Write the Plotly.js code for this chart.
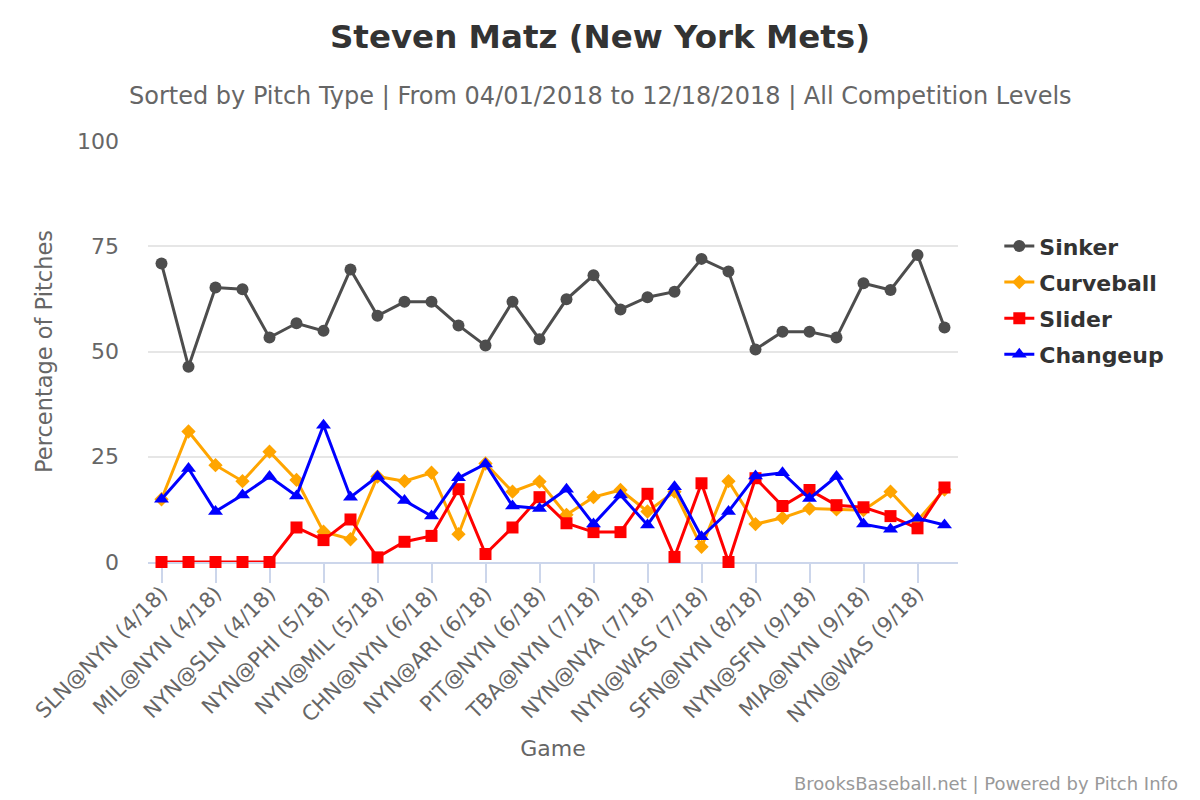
<!DOCTYPE html>
<html>
<head>
<meta charset="utf-8">
<script src="https://cdn.plot.ly/plotly-3.0.1.min.js"></script>
<style>
  html, body { margin: 0; padding: 0; background: #fff; }
  #chart { width: 1200px; height: 800px; }
</style>
</head>
<body>
<div id="chart"></div>
<script>
// Steven Matz 2018, share of each pitch type per game (percent).
// 30 starts; only every other game gets a tick label, like the source chart.
const gameIndex = Array.from({ length: 30 }, (_, i) => i);

const tickLabels = [
    'SLN@NYN (4/18)', 'MIL@NYN (4/18)', 'NYN@SLN (4/18)', 'NYN@PHI (5/18)',
    'NYN@MIL (5/18)', 'CHN@NYN (6/18)', 'NYN@ARI (6/18)', 'PIT@NYN (6/18)',
    'TBA@NYN (7/18)', 'NYN@NYA (7/18)', 'NYN@WAS (7/18)', 'SFN@NYN (8/18)',
    'NYN@SFN (9/18)', 'MIA@NYN (9/18)', 'NYN@WAS (9/18)',
];
const tickPositions = tickLabels.map((_, i) => i * 2);

const sinker = [
    70.9, 46.4, 65.2, 64.8, 53.3, 56.7, 54.9, 69.5, 58.5, 61.8,
    61.8, 56.2, 51.4, 61.8, 52.9, 62.4, 68.1, 60.0, 62.9, 64.2,
    72.0, 69.0, 50.5, 54.7, 54.7, 53.3, 66.2, 64.6, 72.9, 55.7,
];
const curveball = [
    14.9, 31.0, 23.0, 19.2, 26.2, 19.5, 7.2, 5.4, 20.3, 19.2,
    21.2, 6.6, 23.4, 16.7, 19.1, 11.2, 15.4, 17.1, 12.0, 16.7,
    3.6, 19.2, 9.0, 10.5, 12.7, 12.5, 12.3, 16.7, 9.8, 17.2,
];
const slider = [
    0, 0, 0, 0, 0, 8.2, 5.2, 10.1, 1.1, 4.8,
    6.2, 17.3, 1.9, 8.2, 15.4, 9.2, 7.1, 7.1, 16.2, 1.2,
    18.7, 0, 19.9, 13.3, 17.1, 13.5, 13.0, 10.9, 8.0, 17.7,
];
const changeup = [
    14.9, 22.2, 12.0, 15.9, 20.3, 15.7, 32.5, 15.4, 20.3, 14.6,
    10.9, 20.0, 23.3, 13.3, 12.7, 17.3, 9.0, 15.9, 8.8, 17.9,
    6.0, 12.0, 20.4, 21.2, 15.1, 20.3, 9.0, 7.8, 10.4, 8.8,
];

const FONT = '"DejaVu Sans", Verdana, sans-serif';

function series(name, values, color, symbol, size) {
    return {
        type: 'scatter', mode: 'lines+markers', name,
        legendgroup: name,
        x: gameIndex, y: values,
        line: { color, width: 3 },
        marker: { color, symbol, size },
        cliponaxis: false,
        hovertemplate: '%{y:.1f}%<extra>' + name + '</extra>',
    };
}

const traces = [
    series('Sinker', sinker, '#4d4d4d', 'circle', 12),
    series('Curveball', curveball, '#ffa500', 'diamond', 11),
    series('Slider', slider, '#ff0000', 'square', 12),
    series('Changeup', changeup, '#0000ff', 'triangle-up', 13),
];

const layout = {
    width: 1200, height: 800,
    paper_bgcolor: '#fff', plot_bgcolor: '#fff',
    font: { family: FONT, color: '#666' },
    margin: { l: 148, r: 242, t: 141, b: 238, autoexpand: false },
    title: {
        text: 'Steven Matz (New York Mets)',
        font: { family: FONT, size: 32.5, color: '#333', weight: 'bold' },
        x: 0.5, xref: 'container', xanchor: 'center',
        y: 1 - 37 / 800, yref: 'container', yanchor: 'middle',
    },
    xaxis: {
        range: [-0.5, 29.5],
        tickvals: tickPositions, ticktext: tickLabels,
        tickangle: -45,
        tickfont: { size: 21, color: '#666' },
        ticks: 'outside', ticklen: 19, tickwidth: 1.5, tickcolor: '#ccd6eb',
        ticklabelstandoff: -10,
        showline: true, linecolor: '#ccd6eb', linewidth: 1.5,
        layer: 'below traces',
        showgrid: false, zeroline: false, fixedrange: true,
        title: { text: 'Game', font: { size: 22, color: '#666' }, standoff: 14 },
    },
    yaxis: {
        range: [0, 100],
        tickvals: [0, 25, 50, 75, 100],
        tickfont: { size: 22, color: '#666' },
        ticklabelstandoff: 28,
        showgrid: true, gridcolor: '#e6e6e6', gridwidth: 1.5,
        zeroline: false, showline: false, fixedrange: true,
        layer: 'below traces',
        title: { text: 'Percentage of Pitches', font: { size: 22.5, color: '#666' }, standoff: 18 },
    },
    legend: {
        x: 1.051, xanchor: 'left',
        y: 0.8, yanchor: 'top',
        font: { family: FONT, size: 22, color: '#333', weight: 'bold' },
        bgcolor: 'rgba(0,0,0,0)',
        traceorder: 'grouped',
        tracegroupgap: 4.5,
        itemwidth: 30,
    },
    annotations: [
        {
            text: 'Sorted by Pitch Type | From 04/01/2018 to 12/18/2018 | All Competition Levels',
            xref: 'paper', yref: 'paper',
            x: (600 - 148) / 810, y: (562 - 96) / 421,
            xanchor: 'center', yanchor: 'middle', showarrow: false,
            font: { size: 24, color: '#666' },
        },
        {
            text: 'BrooksBaseball.net | Powered by Pitch Info',
            xref: 'paper', yref: 'paper',
            x: (1180 - 148) / 810, y: (562 - 783) / 421,
            xanchor: 'right', yanchor: 'middle', showarrow: false,
            font: { size: 18, color: '#999' },
        },
    ],
    showlegend: true,
    hovermode: 'closest',
};

Plotly.newPlot('chart', traces, layout, { displayModeBar: false, responsive: false });
</script>
</body>
</html>
